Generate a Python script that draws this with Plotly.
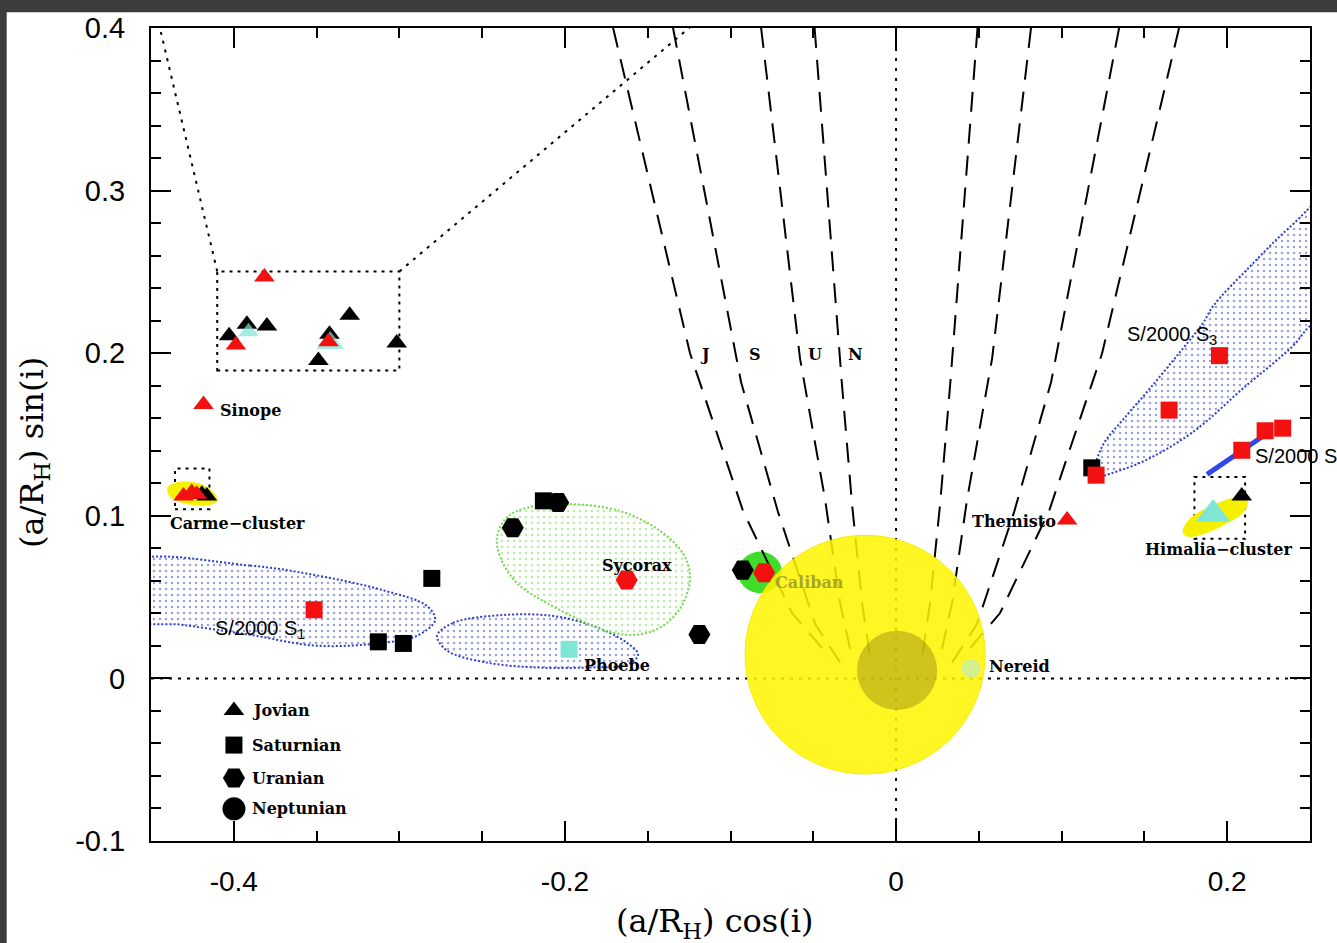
import plotly.graph_objects as go

# ---------------- axis ticks ----------------
x_tickvals = [-0.4, -0.2, 0, 0.2]
x_ticktext = ["-0.4", "-0.2", "0", "0.2"]
y_tickvals = [-0.1, 0, 0.1, 0.2, 0.3, 0.4]
y_ticktext = ["-0.1", "0", "0.1", "0.2", "0.3", "0.4"]

# ---------------- satellites ----------------
# Jovian (triangles)
jov_black_x = [-0.4028, -0.3921, -0.3800, -0.3300, -0.3016, -0.3489, -0.3422, -0.4193, -0.4163, 0.2088]
jov_black_y = [0.2107, 0.2178, 0.2168, 0.2233, 0.2063, 0.1955, 0.2117, 0.1133, 0.1122, 0.1122]
jov_cyan_x = [-0.3911, -0.3418]
jov_cyan_y = [0.2132, 0.2063]
jov_cyan_big_x = [0.1915]
jov_cyan_big_y = [0.1011]
jov_red_x = [-0.3815, -0.3987, -0.3428, -0.4183, -0.4304, -0.4254, -0.4224, 0.1033]
jov_red_y = [0.2468, 0.2051, 0.2071, 0.1685, 0.1122, 0.1143, 0.1133, 0.0974]

# Saturnian (squares)
sat_black_x = [-0.2804, -0.3127, -0.2976, -0.2130, 0.1182]
sat_black_y = [0.0615, 0.0225, 0.0215, 0.1092, 0.1295]
sat_red_x = [-0.3515, 0.1953, 0.1649, 0.1208, 0.2088, 0.2229, 0.2335]
sat_red_y = [0.0422, 0.1985, 0.1650, 0.1250, 0.1403, 0.1523, 0.1539]
sat_cyan_x = [-0.1975]
sat_cyan_y = [0.0179]

# Uranian (hexagons)
ura_black_x = [-0.2315, -0.2041, -0.1188, -0.0926]
ura_black_y = [0.0926, 0.1082, 0.0270, 0.0666]
ura_red_x = [-0.1627, -0.0797]
ura_red_y = [0.0605, 0.0650]

# Neptunian (circles)
nep_x = [0.0453]
nep_y = [0.0061]

# ---------------- orbit clouds (outlines) ----------------
s1_cloud_x = [-0.4627, -0.3902, -0.3497, -0.3098, -0.2833, -0.2784, -0.2893, -0.3098, -0.3497, -0.3902, -0.4306, -0.4627]
s1_cloud_y = [0.0706, 0.0694, 0.0633, 0.0542, 0.0445, 0.0359, 0.0262, 0.0219, 0.0201, 0.0268, 0.0329, 0.0372]
phoebe_cloud_x = [-0.2772, -0.2676, -0.2374, -0.2072, -0.1830, -0.1625, -0.1558, -0.1625, -0.1866, -0.2168, -0.2470, -0.2712]
phoebe_cloud_y = [0.0262, 0.0341, 0.0390, 0.0384, 0.0323, 0.0219, 0.0146, 0.0085, 0.0067, 0.0067, 0.0097, 0.0171]
sycorax_cloud_x = [-0.2211, -0.1969, -0.1667, -0.1425, -0.1286, -0.1244, -0.1286, -0.1383, -0.1504, -0.1625,
                   -0.1770, -0.1909, -0.2108, -0.2289, -0.2392, -0.2410, -0.2349]
sycorax_cloud_y = [0.1054, 0.1072, 0.1029, 0.0907, 0.0767, 0.0627, 0.0463, 0.0341, 0.0280, 0.0268,
                   0.0298, 0.0359, 0.0463, 0.0585, 0.0749, 0.0871, 0.0993]
s3_cloud_x = [0.1172, 0.1190, 0.1250, 0.1395, 0.1534, 0.1697, 0.1854, 0.1915, 0.2138, 0.2380, 0.2682,
              0.2682, 0.2500, 0.2398, 0.2096, 0.1794, 0.1492, 0.1232]
s3_cloud_y = [0.1206, 0.1273, 0.1437, 0.1620, 0.1784, 0.1985, 0.2186, 0.2290, 0.2534, 0.2777, 0.3021,
              0.2290, 0.2168, 0.2046, 0.1784, 0.1516, 0.1334, 0.1236]
s2_track_x = [0.1878, 0.2211]
s2_track_y = [0.1255, 0.1486]
carme_yellow_x = [-0.4397, -0.4325, -0.4204, -0.4120, -0.4102, -0.4174, -0.4295, -0.4385]
carme_yellow_y = [0.1175, 0.1206, 0.1194, 0.1139, 0.1090, 0.1066, 0.1078, 0.1121]
himalia_yellow_x = [0.1733, 0.1776, 0.1896, 0.2047, 0.2120, 0.2096, 0.1987, 0.1836, 0.1751]
himalia_yellow_y = [0.0907, 0.0981, 0.1054, 0.1108, 0.1090, 0.1023, 0.0950, 0.0883, 0.0877]
caliban_blob = [-0.0954, -0.0689, 0.0524, 0.0780]   # x0, x1, y0, y1

# ---------------- boxes and guide lines ----------------
box_main = [-0.4100, -0.3000, 0.1894, 0.2503]
box_carme = [-0.4355, -0.4147, 0.1041, 0.1291]
box_himalia = [0.1802, 0.2108, 0.0859, 0.1238]
zoom_left_x = [-0.4100, -0.4460]
zoom_left_y = [0.2503, 0.4060]
zoom_right_x = [-0.3000, -0.1180]
zoom_right_y = [0.2503, 0.4060]

# stability curves (left side; right side mirrored)
curve_labels = ["J", "S", "U", "N"]
curve_label_x = [-0.1154, -0.0852, -0.0489, -0.0248]
curve_label_y = [0.1991, 0.1991, 0.1991, 0.1991]
curve_J_x = [-0.1709, -0.1244, -0.0924, -0.0628, -0.0399]
curve_J_y = [0.4000, 0.1998, 0.1029, 0.0402, 0.0128]
curve_S_x = [-0.1347, -0.0936, -0.0713, -0.0489, -0.0338]
curve_S_y = [0.4000, 0.1821, 0.1023, 0.0335, 0.0097]
curve_U_x = [-0.0815, -0.0580, -0.0429, -0.0338, -0.0266]
curve_U_y = [0.4000, 0.1967, 0.1102, 0.0463, 0.0128]
curve_N_x = [-0.0492, -0.0328, -0.0266, -0.0205, -0.0157]
curve_N_y = [0.4000, 0.1823, 0.1072, 0.0463, 0.0128]

hill_outer = [-0.0912, 0.0538, -0.0588, 0.0880]
hill_inner = [-0.0236, 0.0248, -0.0195, 0.0293]

# ---------------- labels ----------------
label_text = ["Sinope", "Carme\u2212cluster", "Sycorax", "Phoebe", "Nereid", "Themisto", "Himalia\u2212cluster"]
label_x = [-0.4095, -0.4397, -0.1788, -0.1897, 0.0550, 0.0447, 0.1492]
label_y = [0.1650, 0.0950, 0.0694, 0.0079, 0.0073, 0.0968, 0.0792]
sans_label_text = ["S/2000 S<sub>1</sub>", "S/2000 S<sub>3</sub>", "S/2000 S<sub>2</sub>"]
sans_label_x = [-0.4125, 0.1383, 0.2156]
sans_label_y = [0.0298, 0.2107, 0.1358]
caliban_label = ["Caliban"]
caliban_label_x = [-0.0743]
caliban_label_y = [0.0590]

legend_names = ["Jovian", "Saturnian", "Uranian", "Neptunian"]
legend_symbols = ["triangle-up", "square", "hexagon2", "circle"]
legend_sizes = [18, 17, 22, 23]
legend_marker_x = [-0.3999, -0.3999, -0.3999, -0.3999]
legend_y = [-0.0197, -0.0410, -0.0613, -0.0802]
legend_text_x = -0.3902

RED = "#f21010"
CYAN = "#7fe6d6"
BLUE = "#2e3fc8"
GREEN = "#6fd84a"
SERIF = "DejaVu Serif"
SANS = "Liberation Sans"

fig = go.Figure()

# clouds
def cloud(xs, ys, color):
    fig.add_trace(go.Scatter(
        x=xs + xs[:1], y=ys + ys[:1], mode="lines", fill="toself",
        line=dict(color=color, width=2, dash="2px,2px", shape="spline", smoothing=1.0),
        fillcolor="rgba(255,255,255,0)",
        fillpattern=dict(shape=".", fgcolor=color, bgcolor="rgba(255,255,255,0)", size=6, solidity=0.14),
        hoverinfo="skip", showlegend=False))

cloud(s1_cloud_x, s1_cloud_y, BLUE)
cloud(phoebe_cloud_x, phoebe_cloud_y, BLUE)
cloud(sycorax_cloud_x, sycorax_cloud_y, GREEN)
cloud(s3_cloud_x, s3_cloud_y, BLUE)

fig.add_trace(go.Scatter(x=s2_track_x, y=s2_track_y, mode="lines",
                         line=dict(color="#2f48e8", width=5), hoverinfo="skip", showlegend=False))

for xs, ys in [(carme_yellow_x, carme_yellow_y), (himalia_yellow_x, himalia_yellow_y)]:
    fig.add_trace(go.Scatter(x=xs + xs[:1], y=ys + ys[:1], mode="lines", fill="toself",
                             line=dict(color="#f4f000", width=1, shape="spline"),
                             fillcolor="#f4f000", hoverinfo="skip", showlegend=False))

shapes = []
# caliban green blob
shapes.append(dict(type="circle", xref="x", yref="y", x0=caliban_blob[0], x1=caliban_blob[1],
                   y0=caliban_blob[2], y1=caliban_blob[3], fillcolor="#3fdc2a",
                   line=dict(width=0), layer="below"))

# stability curves
for cx, cy in [(curve_J_x, curve_J_y), (curve_S_x, curve_S_y), (curve_U_x, curve_U_y), (curve_N_x, curve_N_y)]:
    for sgn in (1, -1):
        path = "M " + " L ".join(f"{sgn * a},{b}" for a, b in zip(cx, cy))
        shapes.append(dict(type="path", xref="x", yref="y", path=path,
                           line=dict(color="black", width=2, dash="20px,12px"), layer="below"))

# zero lines
shapes.append(dict(type="line", xref="x", yref="y", x0=0, x1=0, y0=-0.1, y1=0.4,
                   line=dict(color="black", width=2, dash="3px,7px"), layer="below"))
shapes.append(dict(type="line", xref="x", yref="y", x0=-0.45, x1=0.25, y0=0, y1=0,
                   line=dict(color="black", width=2, dash="3px,6px"), layer="below"))

# boxes
for b in [box_main, box_carme, box_himalia]:
    shapes.append(dict(type="rect", xref="x", yref="y", x0=b[0], x1=b[1], y0=b[2], y1=b[3],
                       line=dict(color="black", width=2, dash="3px,5px"), layer="below"))
for lx, ly in [(zoom_left_x, zoom_left_y), (zoom_right_x, zoom_right_y)]:
    shapes.append(dict(type="line", xref="x", yref="y", x0=lx[0], x1=lx[1], y0=ly[0], y1=ly[1],
                       line=dict(color="black", width=2, dash="3px,6px"), layer="below"))

# Hill sphere circles
shapes.append(dict(type="circle", xref="x", yref="y", x0=hill_outer[0], x1=hill_outer[1],
                   y0=hill_outer[2], y1=hill_outer[3], fillcolor="rgba(255,244,0,0.86)",
                   line=dict(color="#f5ee00", width=1), layer="below"))
shapes.append(dict(type="circle", xref="x", yref="y", x0=hill_inner[0], x1=hill_inner[1],
                   y0=hill_inner[2], y1=hill_inner[3], fillcolor="rgba(150,135,20,0.45)",
                   line=dict(width=0), layer="below"))

# screenshot frame bands
shapes.append(dict(type="rect", xref="paper", yref="paper", x0=-0.135, x1=-0.1245, y0=-0.2, y1=1.05,
                   fillcolor="#3c3c3c", line=dict(width=0), layer="above"))
shapes.append(dict(type="rect", xref="paper", yref="paper", x0=-0.135, x1=1.03, y0=1.0195, y1=1.05,
                   fillcolor="#3c3c3c", line=dict(width=0), layer="above"))

# markers
def pts(xs, ys, symbol, size, color):
    fig.add_trace(go.Scatter(x=xs, y=ys, mode="markers",
                             marker=dict(symbol=symbol, size=size, color=color, line=dict(width=0)),
                             hoverinfo="skip", showlegend=False, cliponaxis=False))

pts(jov_black_x, jov_black_y, "triangle-up", 18, "black")
pts(jov_cyan_x, jov_cyan_y, "triangle-up", [18, 24], CYAN)
pts(jov_cyan_big_x, jov_cyan_big_y, "triangle-up", 30, CYAN)
pts(jov_red_x, jov_red_y, "triangle-up", 18, RED)
pts(sat_black_x, sat_black_y, "square", 17, "black")
pts(sat_red_x, sat_red_y, "square", 17, RED)
pts(sat_cyan_x, sat_cyan_y, "square", 17, CYAN)
pts(ura_black_x, ura_black_y, "hexagon2", 22, "black")
pts(ura_red_x, ura_red_y, "hexagon2", 22, RED)
pts(nep_x, nep_y, "circle", 19, "#d2f08c")

# legend markers
for i in range(4):
    pts([legend_marker_x[i]], [legend_y[i]], legend_symbols[i], legend_sizes[i], "black")

annotations = []
lab_font = dict(family=SERIF, size=16, color="black", weight="bold")
for t, x, y in zip(label_text, label_x, label_y):
    annotations.append(dict(x=x, y=y, text=t, xref="x", yref="y", showarrow=False,
                            xanchor="left", yanchor="middle", font=lab_font))
for t, x, y in zip(sans_label_text, sans_label_x, sans_label_y):
    annotations.append(dict(x=x, y=y, text=t, xref="x", yref="y", showarrow=False,
                            xanchor="left", yanchor="middle", font=dict(family=SANS, size=20, color="black")))
for t, x, y in zip(caliban_label, caliban_label_x, caliban_label_y):
    annotations.append(dict(x=x, y=y, text=t, xref="x", yref="y", showarrow=False,
                            xanchor="left", yanchor="middle",
                            font=dict(family=SERIF, size=16, color="#a8a62a", weight="bold")))
for t, x, y in zip(curve_labels, curve_label_x, curve_label_y):
    annotations.append(dict(x=x, y=y, text=t, xref="x", yref="y", showarrow=False,
                            xanchor="center", yanchor="middle", font=lab_font))
for t, y in zip(legend_names, legend_y):
    annotations.append(dict(x=legend_text_x, y=y, text=t, xref="x", yref="y", showarrow=False,
                            xanchor="left", yanchor="middle", font=lab_font))

# axis titles
annotations.append(dict(x=0.4858, y=-0.1005, xref="paper", yref="paper", showarrow=False,
                        text="(a/R<sub>H</sub>) cos(i)", xanchor="center", yanchor="middle",
                        font=dict(family=SERIF, size=32, color="black")))
annotations.append(dict(x=-0.1005, y=0.478, xref="paper", yref="paper", showarrow=False,
                        text="(a/R<sub>H</sub>) sin(i)", textangle=-90, xanchor="center", yanchor="middle",
                        font=dict(family=SERIF, size=32, color="black")))

axis_common = dict(showline=True, linecolor="black", linewidth=2, mirror="allticks",
                   ticks="inside", ticklen=20, tickwidth=2, tickcolor="black",
                   showgrid=False, zeroline=False)

fig.update_layout(
    width=1337, height=943,
    margin=dict(l=151, r=27, t=20, b=102),
    paper_bgcolor="white", plot_bgcolor="white",
    shapes=shapes, annotations=annotations,
    xaxis=dict(range=[-0.45, 0.25], tickvals=x_tickvals, ticktext=x_ticktext,
               tickfont=dict(family=SANS, size=28, color="black"), ticklabelstandoff=14,
               minor=dict(ticks="inside", ticklen=10, dtick=0.05, tick0=0, tickwidth=2, tickcolor="black"),
               **axis_common),
    yaxis=dict(range=[-0.1, 0.4], tickvals=y_tickvals, ticktext=y_ticktext,
               tickfont=dict(family=SANS, size=29, color="black"), ticklabelstandoff=18,
               minor=dict(ticks="inside", ticklen=10, dtick=0.02, tick0=0, tickwidth=2, tickcolor="black"),
               **axis_common),
)

fig.write_html("out.html", config={"displayModeBar": False},
               post_script="document.body.style.margin='0px';document.body.style.overflow='hidden';")
